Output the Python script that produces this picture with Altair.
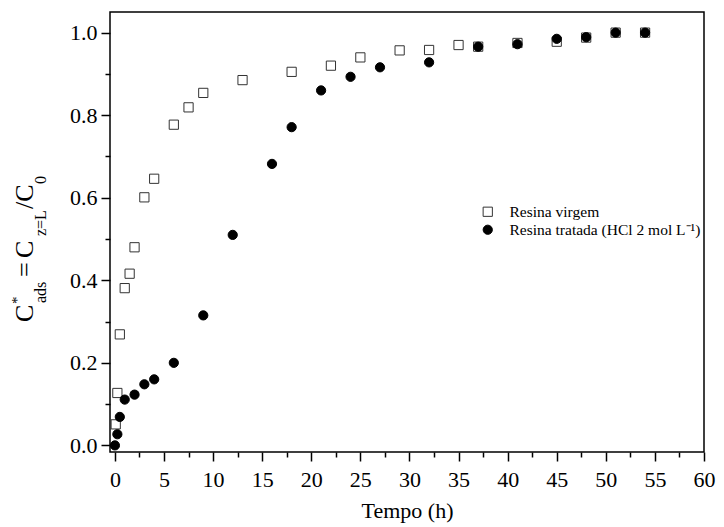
import altair as alt
import pandas as pd

# ---- data ----
tempo_virgem = [0.083, 0.25, 0.5, 1, 1.5, 2, 3, 4, 6, 7.5, 9, 13, 18, 22, 25, 29, 32, 35, 37, 41, 45, 48, 51, 54]
c_virgem = [0.051, 0.127, 0.269, 0.381, 0.416, 0.480, 0.601, 0.646, 0.777, 0.819, 0.854, 0.885, 0.905, 0.920,
            0.940, 0.957, 0.958, 0.970, 0.966, 0.975, 0.978, 0.988, 1.0, 1.0]
tempo_tratada = [0, 0.25, 0.5, 1, 2, 3, 4, 6, 9, 12, 16, 18, 21, 24, 27, 32, 37, 41, 45, 48, 51, 54]
c_tratada = [0, 0.027, 0.069, 0.111, 0.123, 0.148, 0.160, 0.200, 0.315, 0.510, 0.682, 0.771, 0.860, 0.893,
             0.916, 0.928, 0.966, 0.972, 0.985, 0.989, 1.0, 1.0]
series = ["Resina virgem", "Resina tratada (HCl 2 mol L\u207b\u00b9)"]
x_ticks = [0, 2.5, 5, 7.5, 10, 12.5, 15, 17.5, 20, 22.5, 25, 27.5, 30, 32.5, 35, 37.5, 40, 42.5, 45, 47.5,
           50, 52.5, 55, 57.5, 60]
y_ticks = [0.0, 0.1, 0.2, 0.3, 0.4, 0.5, 0.6, 0.7, 0.8, 0.9, 1.0]
x_title = "Tempo (h)"
# y-axis title pieces: text, font size, baseline x (page px), start y (page px)
y_title_pieces = [
    ("C", 26, 33, 322),
    ("*", 15, 22, 304),
    ("ads", 16, 46, 303),
    ("=", 26, 33, 277),
    ("C", 26, 33, 258),
    ("z=L", 16, 46, 236),
    ("/C", 26, 33, 209),
    ("0", 16, 46, 184),
]

FONT = "Liberation Serif"
ORIGIN_X, ORIGIN_Y = 110, 12
W, H = 594, 440

df = pd.DataFrame({
    "tempo": tempo_virgem + tempo_tratada,
    "c": c_virgem + c_tratada,
    "serie": [series[0]] * len(tempo_virgem) + [series[1]] * len(tempo_tratada),
})

legend = alt.Legend(
    title=None, orient="none", legendX=370, legendY=192, padding=0,
    labelFont=FONT, labelFontSize=15.5, labelColor="black", labelLimit=0,
    symbolSize=85, symbolStrokeWidth=1, rowPadding=1, labelOffset=14,
)

x_axis = alt.Axis(
    values=x_ticks, title=x_title, grid=False, domain=False,
    labelExpr="datum.value % 5 === 0 ? datum.label : ''",
    labelFont=FONT, labelFontSize=22, labelColor="black", labelOverlap=False, labelPadding=8,
    labelFlush=False, labelBound=False,
    tickSize={"condition": {"test": "datum.value % 5 === 0", "value": 9}, "value": 5},
    tickColor="black", tickWidth=1.5,
    titleFont=FONT, titleFontSize=22, titleFontWeight="normal", titleColor="black", titlePadding=10,
)
y_axis = alt.Axis(
    values=y_ticks, title=None, grid=False, domain=False,
    labelExpr="round(datum.value*10) % 2 === 0 ? format(datum.value, '.1f') : ''",
    labelFont=FONT, labelFontSize=22, labelColor="black", labelOverlap=False, labelPadding=4,
    labelFlush=False, labelBound=False,
    tickSize={"condition": {"test": "round(datum.value*10) % 2 === 0", "value": 9}, "value": 5},
    tickColor="black", tickWidth=1.5,
)

points = alt.Chart(df).mark_point(filled=True, opacity=1, strokeWidth=1, size=85).encode(
    x=alt.X("tempo:Q", scale=alt.Scale(domain=[-0.5, 60], nice=False, zero=False), axis=x_axis),
    y=alt.Y("c:Q", scale=alt.Scale(domain=[-0.016, 1.05], nice=False, zero=False), axis=y_axis),
    shape=alt.Shape("serie:N", scale=alt.Scale(domain=series, range=["square", "circle"]), legend=legend),
    fill=alt.Fill("serie:N", scale=alt.Scale(domain=series, range=["white", "black"]), legend=legend),
    stroke=alt.Stroke("serie:N", scale=alt.Scale(domain=series, range=["#333333", "black"]), legend=legend),
)

layers = [points]
for txt, fs, bx, sy in y_title_pieces:
    layers.append(
        alt.Chart(alt.Data(values=[{}])).mark_text(
            text=txt, font=FONT, fontSize=fs, angle=270, align="left", baseline="alphabetic", color="black"
        ).encode(x=alt.value(bx - ORIGIN_X), y=alt.value(sy - ORIGIN_Y))
    )

chart = alt.layer(*layers).properties(
    width=W, height=H,
    autosize=alt.AutoSizeParams(type="none"),
    padding={"left": ORIGIN_X - 8, "top": ORIGIN_Y - 8, "right": 12, "bottom": 72},
    background="white",
).configure_view(stroke="black", strokeWidth=1.5)

chart.save("out.html", embed_options={"renderer": "svg", "actions": False})
